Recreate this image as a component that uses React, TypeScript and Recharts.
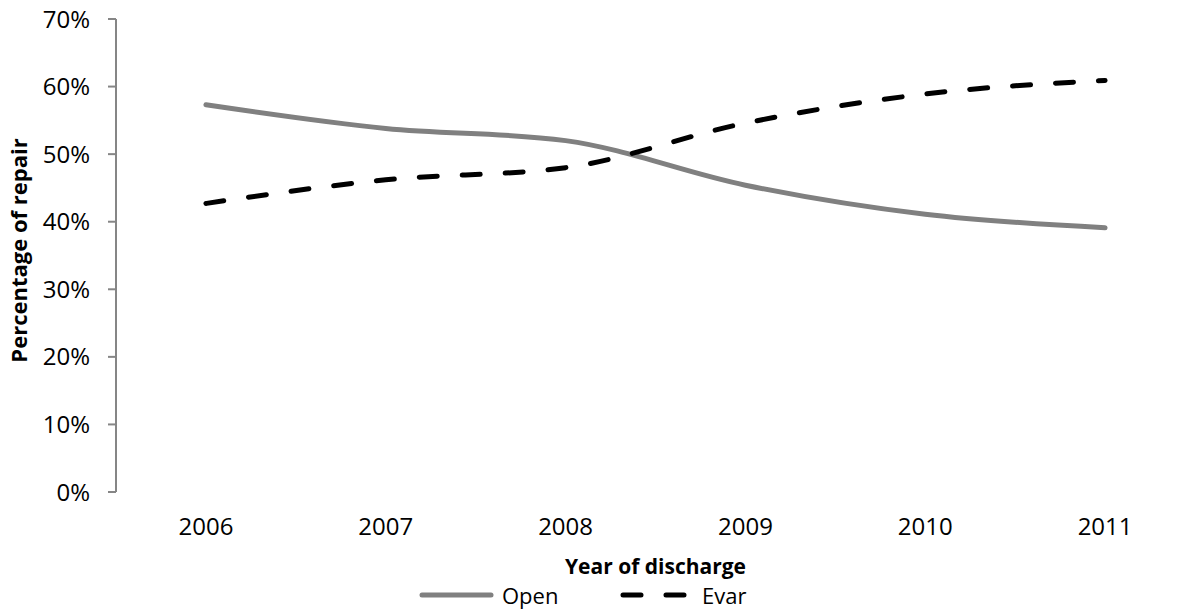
import React from 'react';
import { LineChart, Line, XAxis, YAxis } from 'recharts';

const years = ['2006', '2007', '2008', '2009', '2010', '2011'];
const openValues = [57.3, 53.8, 52.0, 45.4, 41.1, 39.1];
const evarValues = [42.7, 46.2, 48.0, 54.6, 58.9, 60.9];
const yTicks = [0, 10, 20, 30, 40, 50, 60, 70];
const bandTicks = [0, 1, 2, 3, 4, 5, 6];
const labelTicks = [0.5, 1.5, 2.5, 3.5, 4.5, 5.5];
const seriesNames = ['Open', 'Evar'];

const data = years.map((y, i) => ({
  x: i + 0.5,
  year: y,
  open: openValues[i],
  evar: evarValues[i],
}));

const FONT = '"Open Sans", sans-serif';
const AXIS = '#868686';

export default function App() {
  return (
    <div style={{ position: 'absolute', left: 0, top: 0, width: 1187, height: 609, overflow: 'hidden', background: '#fff' }}>
      <LineChart
        width={1200}
        height={609}
        data={data}
        margin={{ top: 19, right: 5, bottom: 0, left: 0 }}
      >
        <XAxis
          xAxisId="band"
          type="number"
          dataKey="x"
          domain={[0, 6]}
          ticks={bandTicks}
          tickFormatter={() => ''}
          tickSize={8}
          axisLine={{ stroke: AXIS, strokeWidth: 2 }}
          tickLine={{ stroke: AXIS, strokeWidth: 2 }}
          height={0}
        />
        <XAxis
          xAxisId="labels"
          type="number"
          dataKey="x"
          domain={[0, 6]}
          ticks={labelTicks}
          tickFormatter={(v: number) => years[Math.round(v - 0.5)]}
          axisLine={false}
          tickLine={false}
          tickSize={0}
          tickMargin={26}
          tick={{ fill: '#000', fontSize: 24, fontFamily: FONT }}
          height={117}
          label={{ value: 'Year of discharge', position: 'insideTop', offset: 67, fill: '#000', fontSize: 21, fontWeight: 700, fontFamily: FONT }}
        />
        <YAxis
          domain={[0, 70]}
          ticks={yTicks}
          tickFormatter={(v: number) => `${v}%`}
          width={116}
          tickSize={8}
          tickMargin={18}
          axisLine={{ stroke: AXIS, strokeWidth: 2 }}
          tickLine={{ stroke: AXIS, strokeWidth: 2 }}
          tick={{ fill: '#000', fontSize: 24, fontFamily: FONT }}
          label={{ value: 'Percentage of repair', angle: -90, position: 'insideLeft', offset: 19, dy: -5, fill: '#000', fontSize: 22, fontWeight: 700, fontFamily: FONT, style: { textAnchor: 'middle' } }}
        />
        <Line
          xAxisId="labels"
          type="monotone"
          dataKey="open"
          name={seriesNames[0]}
          stroke="#808080"
          strokeWidth={5}
          dot={false}
          strokeLinecap="round"
          isAnimationActive={false}
        />
        <Line
          xAxisId="labels"
          type="monotone"
          dataKey="evar"
          name={seriesNames[1]}
          stroke="#000"
          strokeWidth={5}
          strokeDasharray="18 25"
          strokeLinecap="round"
          dot={false}
          isAnimationActive={false}
        />
      </LineChart>
      <svg width={1187} height={609} style={{ position: 'absolute', left: 0, top: 0, pointerEvents: 'none' }}>
        <line x1={422} y1={595} x2={491} y2={595} stroke="#808080" strokeWidth={5} strokeLinecap="round" />
        <text x={502} y={604} fontFamily={FONT} fontSize={22} fill="#000">{seriesNames[0]}</text>
        <line x1={623} y1={595} x2={685} y2={595} stroke="#000" strokeWidth={5} strokeLinecap="round" strokeDasharray="18 25" />
        <text x={702} y={604} fontFamily={FONT} fontSize={22} fill="#000">{seriesNames[1]}</text>
      </svg>
    </div>
  );
}
